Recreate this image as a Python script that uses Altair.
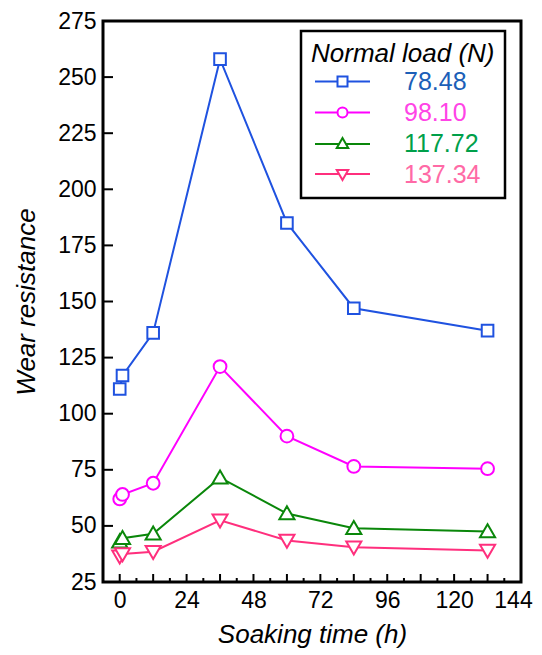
import altair as alt
import pandas as pd

time_h = [0, 1, 12, 36, 60, 84, 132]
loads = ["78.48", "98.10", "117.72", "137.34"]
wear_7848 = [111, 117, 136, 258, 185, 147, 137]
wear_9810 = [62, 64, 69, 121, 90, 76.5, 75.5]
wear_11772 = [43, 44.5, 46.5, 71.5, 55.5, 49, 47.5]
wear_13734 = [36.5, 37.5, 38.5, 52.5, 43.5, 40.5, 39]
line_colors = ["#1f52e0", "#ff00ff", "#0a870a", "#ff2f7d"]
label_colors = ["#1c5fb8", "#ff44e6", "#00a04a", "#ff6aa6"]
x_labels = [0, 24, 48, 72, 96, 120, 144]
x_major = [0, 12, 24, 36, 48, 60, 72, 84, 96, 108, 120, 132]
x_minor = [6, 18, 30, 42, 54, 66, 78, 90, 102, 114, 126, 138]
y_ticks = [25, 50, 75, 100, 125, 150, 175, 200, 225, 250, 275]

W, H = 418, 561
FONT = "Liberation Sans"

rows = []
for load, series in zip(loads, [wear_7848, wear_9810, wear_11772, wear_13734]):
    for t, v in zip(time_h, series):
        rows.append({"time": t, "wear": v, "load": load, "marker": load + " "})
df = pd.DataFrame(rows)
markers = [l + " " for l in loads]

data_shapes = [
    "M-1,-1H1V1H-1Z",
    "M1.1,0A1.1,1.1 0 1,1 -1.1,0A1.1,1.1 0 1,1 1.1,0Z",
    "M0,-1.25L1.3,1L-1.3,1Z",
    "M0,1.25L1.3,-1L-1.3,-1Z",
]
legend_shapes = [
    "M-5.5,0H-1M1,0H5.5M-1,-1H1V1H-1Z",
    "M-5.5,0H-1M1,0H5.5M1,0A1,1 0 1,1 -1,0A1,1 0 1,1 1,0Z",
    "M-5.5,0.1H-0.6M0.6,0.1H5.5M0,-1.1L1.15,0.9L-1.15,0.9Z",
    "M-5.5,-0.1H-0.6M0.6,-0.1H5.5M0,1.1L1.15,-0.9L-1.15,-0.9Z",
]

def pick(values):
    expr = "'" + values[-1] + "'"
    for l, v in reversed(list(zip(loads[:-1], values[:-1]))):
        expr = "datum.label == '" + l + "' ? '" + v + "' : " + expr
    return expr

legend = alt.Legend(
    title="Normal load (N)",
    orient="none",
    legendX=198,
    legendY=10,
    titleFont=FONT,
    titleFontSize=26,
    titleFontStyle="italic",
    titleFontWeight="normal",
    titleColor="black",
    titlePadding=2,
    titleLimit=400,
    labelFont=FONT,
    labelFontSize=25,
    labelColor={"expr": pick(label_colors)},
    symbolType={"expr": pick(legend_shapes)},
    symbolSize=100,
    symbolStrokeWidth=2,
    symbolOffset=19,
    labelOffset=49,
    rowPadding=5,
    padding=10,
    fillColor="white",
    strokeColor="black",
)

color = alt.Color("load:N", sort=loads,
                  scale=alt.Scale(domain=loads, range=line_colors), legend=legend)
shape = alt.Shape("marker:N", sort=markers,
                  scale=alt.Scale(domain=markers, range=data_shapes), legend=None)

xaxis = alt.Axis(values=x_labels, title="Soaking time (h)", ticks=False, labelFlush=False,
                 labelOffset={"condition": {"test": "datum.value == 144", "value": -8},
                              "value": 0},
                 domain=False, grid=False, labelPadding=7, titlePadding=9)
yaxis = alt.Axis(values=y_ticks, title="Wear resistance", ticks=False,
                 domain=False, grid=False, labelPadding=7, titlePadding=18)
xscale = alt.Scale(domain=[-6, 144], nice=False, zero=False)
yscale = alt.Scale(domain=[25, 275], nice=False, zero=False)

xenc = alt.X("time:Q", scale=xscale, axis=xaxis)
yenc = alt.Y("wear:Q", scale=yscale, axis=yaxis)

base = alt.Chart(df)
lines = base.mark_line(strokeWidth=2).encode(x=xenc, y=yenc, color=color, detail="load:N")
points = base.mark_point(filled=False, fill="white", fillOpacity=1, strokeWidth=2, size=135,
                         opacity=1).encode(x=xenc, y=yenc, color=color, shape=shape)

ytick_df = pd.DataFrame({"v": y_ticks})
ytick = alt.Chart(ytick_df).mark_rule(color="black", strokeWidth=2).encode(
    y=alt.Y("v:Q", scale=yscale, axis=yaxis), x=alt.value(0), x2=alt.value(10))
xmaj_df = pd.DataFrame({"t": x_major})
xmaj = alt.Chart(xmaj_df).mark_rule(color="black", strokeWidth=2).encode(
    x=alt.X("t:Q", scale=xscale, axis=xaxis), y=alt.value(H), y2=alt.value(H - 8))
xmin_df = pd.DataFrame({"t": x_minor})
xmin = alt.Chart(xmin_df).mark_rule(color="black", strokeWidth=2).encode(
    x=alt.X("t:Q", scale=xscale, axis=xaxis), y=alt.value(H), y2=alt.value(H - 4))

chart = alt.layer(lines, points, ytick, xmaj, xmin).properties(
    width=W, height=H, padding={"left": 5, "top": 2, "right": 0, "bottom": 2}
).configure_view(stroke="black", strokeWidth=3).configure_axis(
    labelFont=FONT, labelFontSize=23, labelColor="black",
    titleFont=FONT, titleFontSize=26, titleFontStyle="italic", titleFontWeight="normal",
    titleColor="black"
).configure_legend(strokeWidth=2.5)

chart.save("out.html", embed_options={"renderer": "svg", "actions": False})
